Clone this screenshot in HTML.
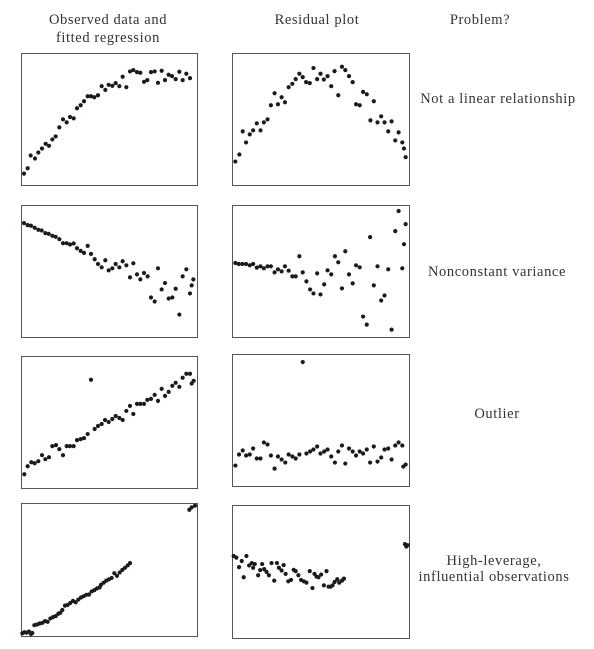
<!DOCTYPE html>
<html><head><meta charset="utf-8">
<style>
html,body{margin:0;padding:0;background:#fff;}
svg{display:block;font-family:"Liberation Serif",serif;}
text{fill:#333;font-size:14.5px;letter-spacing:0.6px;}
</style></head>
<body>
<svg id="fig" width="594" height="649" viewBox="0 0 594 649">
<text x="108" y="24" text-anchor="middle">Observed data and</text>
<text x="108" y="42" text-anchor="middle">fitted regression</text>
<text x="317" y="24" text-anchor="middle">Residual plot</text>
<text x="480" y="24" text-anchor="middle">Problem?</text>
<text x="498" y="103" text-anchor="middle">Not a linear relationship</text>
<text x="497" y="276" text-anchor="middle">Nonconstant variance</text>
<text x="497" y="418" text-anchor="middle">Outlier</text>
<text x="494" y="565" text-anchor="middle">High-leverage,</text>
<text x="494" y="581" text-anchor="middle">influential observations</text>
</svg>
<script>
// Row 1: nonlinear
const r1ObsX=[9,20,29,42,52,63,74,84,94,104,115,126,137,147,158,168,179,189,200,210,220,231,242,253,263,274,284,295,305,316,327,337,348,358,369,379,390,401,411,422,432,443,453,464,475,485,496,507];
const r1ObsY=[34,50,88,79,97,109,123,117,136,145,172,196,187,203,199,229,238,250,265,265,262,268,295,284,299,296,304,295,323,292,339,343,337,335,308,313,337,339,305,341,313,329,325,316,338,313,332,319];
const r1ResX=[10,22,32,42,53,63,74,85,95,106,116,127,137,148,158,169,180,190,201,211,221,232,243,254,264,274,285,296,306,317,328,338,349,360,370,381,391,402,413,423,434,445,455,466,476,487,497,508,513,518];
const r1ResY=[70,91,160,127,151,163,184,163,187,196,238,274,241,262,247,292,302,316,332,322,307,304,349,316,332,315,325,295,340,268,353,343,325,307,241,238,278,271,193,250,187,205,187,160,190,133,157,127,109,83];
// Row 2: nonconstant variance
const r2ObsX=[9,20,30,41,52,62,73,83,94,104,115,126,137,147,158,168,179,189,200,210,221,231,242,253,263,274,284,295,305,316,327,337,348,358,369,380,390,401,411,422,432,443,454,464,475,485,496,507,512,517];
const r2ObsY=[340,334,332,326,320,318,310,308,302,299,292,280,280,276,279,265,257,251,272,248,232,218,208,229,199,205,218,208,226,214,178,220,187,172,191,181,118,106,205,142,161,115,118,144,67,181,202,130,154,172];
const r2ResX=[10,20,31,42,53,63,74,85,95,106,116,127,137,148,158,169,180,190,201,211,222,233,243,254,264,275,285,296,307,317,328,338,349,360,370,381,391,402,412,423,434,445,455,466,476,487,497,508,513,518];
const r2ResY=[221,218,218,218,214,218,207,211,205,211,211,193,202,196,211,198,181,181,241,193,166,142,130,190,127,157,199,187,241,223,145,256,187,160,214,208,61,37,298,154,211,109,124,202,22,316,376,205,277,337];
// Row 3: outlier
const r3ObsX=[10,20,31,41,52,63,73,84,94,105,115,126,137,147,158,168,179,189,200,210,221,231,242,252,263,274,284,295,305,316,327,337,348,358,369,379,390,401,411,422,432,443,454,464,475,485,496,507,512,518];
const r3ObsY=[41,65,77,74,80,98,86,92,125,128,116,98,125,125,125,143,146,149,161,323,176,185,191,203,197,206,215,209,203,230,245,221,251,251,251,263,266,278,260,296,275,287,305,314,302,329,341,341,312,320];
const r3ResX=[10,21,32,42,53,63,74,85,95,106,116,127,137,148,159,169,180,190,201,211,222,233,243,254,264,275,285,296,307,317,328,338,349,360,370,381,391,402,412,423,434,445,455,466,476,487,497,508,511,518];
const r3ResY=[61,94,106,91,94,112,82,82,130,124,91,52,88,79,70,94,88,82,94,370,97,103,109,118,97,103,109,88,70,103,121,67,112,103,91,103,97,109,70,118,73,85,109,112,79,121,130,121,58,64];
// Row 4: high leverage
const r4ObsX=[4,10,17,24,30,34,40,48,56,64,72,80,88,96,104,112,118,124,132,140,148,156,164,172,180,188,196,204,212,220,228,236,240,248,256,264,272,280,288,296,304,312,320,327,505,512,522];
const r4ObsY=[8,11,10,13,6,9,32,34,37,39,44,42,52,56,59,66,69,77,90,92,98,104,100,108,114,118,122,123,132,136,141,144,152,158,164,168,172,186,178,188,196,202,209,216,374,381,386];
const r4ResX=[5,13,21,29,35,43,51,59,63,68,78,84,90,96,103,110,118,126,134,140,148,154,160,168,176,184,190,198,206,214,222,232,240,246,252,258,266,274,282,288,294,300,306,314,320,328,334,516,520,524];
const r4ResY=[243,238,210,228,180,243,215,222,208,219,186,201,219,204,196,186,222,170,222,208,200,216,190,168,172,202,198,186,172,168,164,198,148,190,182,180,188,156,198,152,152,156,166,174,164,170,176,278,271,275];

const panels=[
 {name:'row1-observed',L:21,T:53,R:197,B:185,xs:r1ObsX,ys:r1ObsY},
 {name:'row1-residual',L:232,T:53,R:409,B:185,xs:r1ResX,ys:r1ResY},
 {name:'row2-observed',L:21,T:205,R:197,B:337,xs:r2ObsX,ys:r2ObsY},
 {name:'row2-residual',L:232,T:205,R:409,B:337,xs:r2ResX,ys:r2ResY},
 {name:'row3-observed',L:21,T:356,R:197,B:488,xs:r3ObsX,ys:r3ObsY},
 {name:'row3-residual',L:232,T:354,R:409,B:486,xs:r3ResX,ys:r3ResY},
 {name:'row4-observed',L:21,T:503,R:197,B:636,xs:r4ObsX,ys:r4ObsY},
 {name:'row4-residual',L:232,T:505,R:409,B:638,xs:r4ResX,ys:r4ResY}
];
const NS='http://www.w3.org/2000/svg';
const svg=document.getElementById('fig');
panels.forEach(p=>{
  const g=document.createElementNS(NS,'g');
  
  
  const r=document.createElementNS(NS,'rect');
  r.setAttribute('x',p.L+0.5);r.setAttribute('y',p.T+0.5);
  r.setAttribute('width',p.R-p.L);r.setAttribute('height',p.B-p.T);
  r.setAttribute('fill','#fff');r.setAttribute('stroke','#555');r.setAttribute('stroke-width','1');
  
  
  g.appendChild(r);
  const sx=v=>p.L+v/528*(p.R-p.L);
  const sy=v=>p.B-v/394*(p.B-p.T);
  p.xs.forEach((xv,i)=>{
    const c=document.createElementNS(NS,'circle');
    c.setAttribute('cx',sx(xv));c.setAttribute('cy',sy(p.ys[i]));
    c.setAttribute('r','2.1');c.setAttribute('fill','#1f1a18');
    
    
    g.appendChild(c);
  });
  svg.appendChild(g);
});
</script>
</body></html>
